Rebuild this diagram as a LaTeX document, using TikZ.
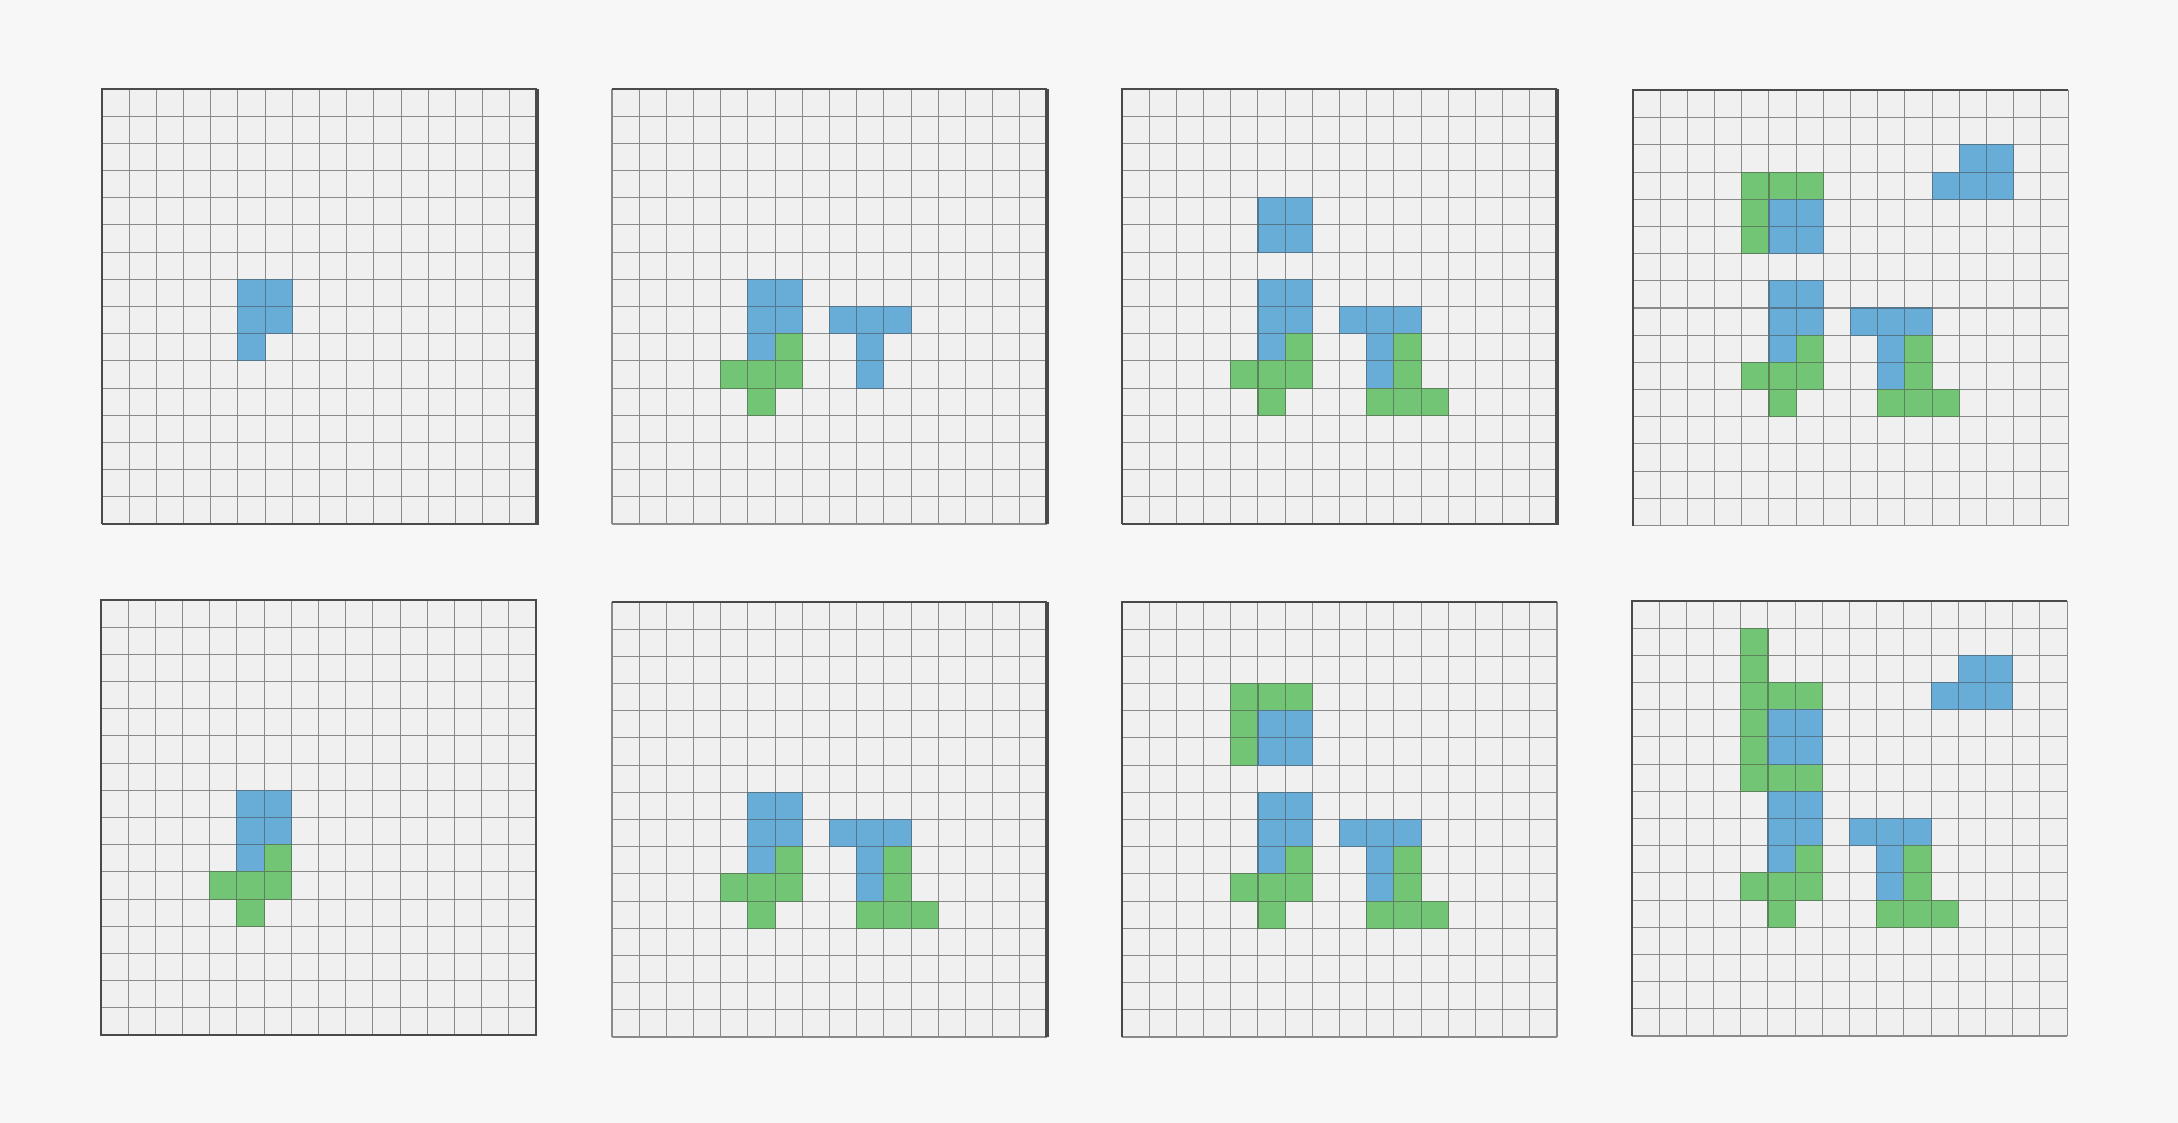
\documentclass[tikz,border=0pt]{standalone}
\definecolor{bg}{HTML}{F7F7F7}
\definecolor{cellfill}{HTML}{F0F0F0}
\definecolor{gline}{HTML}{8A8A8A}
\definecolor{frame}{HTML}{4A4A4A}
\definecolor{cblue}{HTML}{67ADD8}
\definecolor{cgreen}{HTML}{72C574}
\tikzset{
  gridline/.style={draw=gline, line width=1.05pt},
  framestyle/.style={draw=frame, line width=2pt},
  thickframe/.style={draw=frame, line width=3.5pt},
  bcell/.style={fill=cblue, draw=cblue!55!black!85, line width=1.1pt},
  gcell/.style={fill=cgreen, draw=cgreen!55!black!85, line width=1.1pt},
}
\newcommand\panelgrid{%
  \fill[cellfill] (0,0) rectangle (435,435);
  \foreach \k in {0,...,16} {
    \draw[gridline] (\k*27.1875,0) -- (\k*27.1875,435);
    \draw[gridline] (0,\k*27.1875) -- (435,\k*27.1875);
  }}
\newcommand\bluecells[1]{\foreach \i/\j in {#1} {\path[bcell] (\i*27.1875,\j*27.1875) rectangle ++(27.1875,27.1875);}}
\newcommand\greencells[1]{\foreach \i/\j in {#1} {\path[gcell] (\i*27.1875,\j*27.1875) rectangle ++(27.1875,27.1875);}}
\def\BA{5/7,6/7,5/8,6/8,5/9}
\def\GA{6/9,4/10,5/10,6/10,5/11}
\def\BT{8/8,9/8,10/8,9/9,9/10}
\def\GT{10/9,10/10,9/11,10/11,11/11}
\def\BU{5/4,6/4,5/5,6/5}
\def\GU{4/3,5/3,6/3,4/4,4/5}
\def\BR{12/2,13/2,11/3,12/3,13/3}
\def\GW{4/1,4/2,4/3,5/3,6/3,4/4,4/5,4/6,5/6,6/6}
\begin{document}
\begin{tikzpicture}[x=1pt,y=-1pt]
\fill[bg] (0,0) rectangle (2178,1123);
\useasboundingbox (0,0) rectangle (2178,1123);
% Panel 1
\begin{scope}[shift={(102,89)}]
  \panelgrid
  \expandafter\bluecells\expandafter{\BA}
  \draw[framestyle] (0,435) -- (0,0) -- (435,0);
  \draw[framestyle] (0,435) -- (435,435);
  \draw[thickframe] (435,0) -- (435,436);
\end{scope}
% Panel 2
\begin{scope}[shift={(612,89)}]
  \panelgrid
  \expandafter\bluecells\expandafter{\BA}
  \expandafter\greencells\expandafter{\GA}
  \expandafter\bluecells\expandafter{\BT}
  \draw[framestyle] (0,0) -- (435,0);
  \draw[thickframe] (435,0) -- (435,435);
\end{scope}
% Panel 3
\begin{scope}[shift={(1122,89)}]
  \panelgrid
  \expandafter\bluecells\expandafter{\BU}
  \expandafter\bluecells\expandafter{\BA}
  \expandafter\greencells\expandafter{\GA}
  \expandafter\bluecells\expandafter{\BT}
  \expandafter\greencells\expandafter{\GT}
  \draw[framestyle] (0,435) -- (0,0) -- (435,0);
  \draw[framestyle] (0,435) -- (435,435);
  \draw[thickframe] (435,0) -- (435,436);
\end{scope}
% Panel 4
\begin{scope}[shift={(1633,90.5)}]
  \panelgrid
  \expandafter\greencells\expandafter{\GU}
  \expandafter\bluecells\expandafter{\BU}
  \expandafter\bluecells\expandafter{\BR}
  \expandafter\bluecells\expandafter{\BA}
  \expandafter\greencells\expandafter{\GA}
  \expandafter\bluecells\expandafter{\BT}
  \expandafter\greencells\expandafter{\GT}
  \draw[framestyle] (0,435) -- (0,0) -- (435,0);
\end{scope}
% Panel 5
\begin{scope}[shift={(101,600)}]
  \panelgrid
  \expandafter\bluecells\expandafter{\BA}
  \expandafter\greencells\expandafter{\GA}
  \draw[framestyle] (0,0) rectangle (435,435);
\end{scope}
% Panel 6
\begin{scope}[shift={(612,602)}]
  \panelgrid
  \expandafter\bluecells\expandafter{\BA}
  \expandafter\greencells\expandafter{\GA}
  \expandafter\bluecells\expandafter{\BT}
  \expandafter\greencells\expandafter{\GT}
  \draw[framestyle] (0,0) -- (435,0);
  \draw[thickframe] (435,0) -- (435,435);
\end{scope}
% Panel 7
\begin{scope}[shift={(1122,602)}]
  \panelgrid
  \expandafter\greencells\expandafter{\GU}
  \expandafter\bluecells\expandafter{\BU}
  \expandafter\bluecells\expandafter{\BA}
  \expandafter\greencells\expandafter{\GA}
  \expandafter\bluecells\expandafter{\BT}
  \expandafter\greencells\expandafter{\GT}
  \draw[framestyle] (0,435) -- (0,0) -- (435,0);
\end{scope}
% Panel 8
\begin{scope}[shift={(1632,601)}]
  \panelgrid
  \expandafter\greencells\expandafter{\GW}
  \expandafter\bluecells\expandafter{\BU}
  \expandafter\bluecells\expandafter{\BR}
  \expandafter\bluecells\expandafter{\BA}
  \expandafter\greencells\expandafter{\GA}
  \expandafter\bluecells\expandafter{\BT}
  \expandafter\greencells\expandafter{\GT}
  \draw[framestyle] (0,435) -- (0,0) -- (435,0);
\end{scope}
\end{tikzpicture}
\end{document}
